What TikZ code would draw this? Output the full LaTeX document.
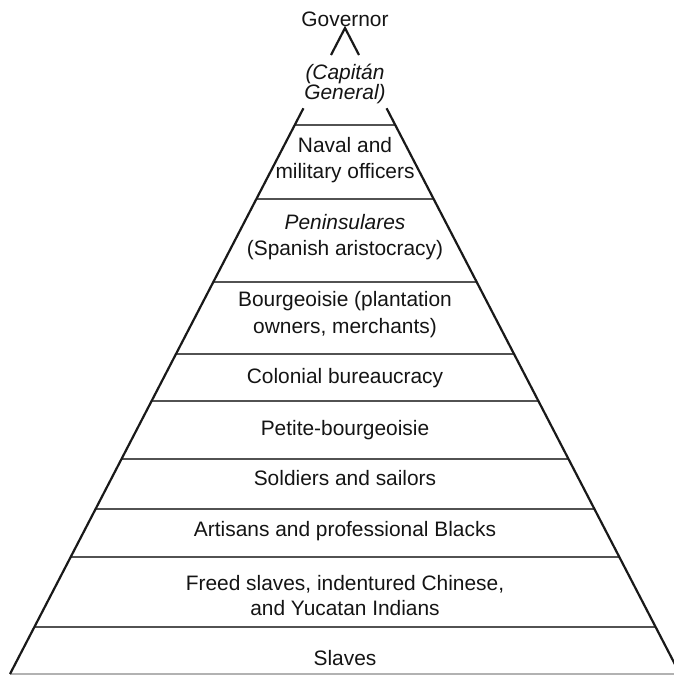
\documentclass[tikz,border=0pt]{standalone}
\usepackage{fontspec}
\setmainfont{Liberation Sans}
\begin{document}
\begin{tikzpicture}[x=1pt,y=-1pt,
  lbl/.style={anchor=base,inner sep=0pt,text=black!92,font=\fontsize{20.9}{26}\selectfont},
  leg/.style={line width=2.2pt,black!90},
  tier/.style={line width=1.5pt,black!68}]
\useasboundingbox (0,0) rectangle (674,675);
\clip (0,0) rectangle (674,675);
\coordinate (apex) at (345,28);
% legs
\coordinate (lt1) at (331.0,55);
\coordinate (rt1) at (359.0,55);
\coordinate (lt2) at (303.4,108.3);
\coordinate (rt2) at (386.6,108.3);
\coordinate (bl) at (10,674);
\coordinate (br) at (680,674);
\draw[tier,black!30,line width=1.2pt] (bl) -- (br);
\foreach \y in {125,199,282,354,401,459,509,557,627}{
  \draw[tier] ({345-0.5186*(\y-28)},\y) -- ({345+0.5186*(\y-28)},\y);
}
\draw[leg] (lt1) -- (apex) -- (rt1);
\draw[leg] (lt2) -- (bl);
\draw[leg] (rt2) -- (br);
% labels
\node[lbl] (gov) at (345,26) {Governor};
\node[lbl] (cap1) at (345,79) {\itshape (Capitán};
\node[lbl] (cap2) at (345,99) {\itshape General)};
\node[lbl] (nav1) at (345,152.3) {Naval and};
\node[lbl] (nav2) at (345,178.3) {military officers};
\node[lbl] (pen1) at (345,229) {\itshape Peninsulares};
\node[lbl] (pen2) at (345,255) {(Spanish aristocracy)};
\node[lbl] (bou1) at (345,306.7) {Bourgeoisie (plantation};
\node[lbl] (bou2) at (345,333.3) {owners, merchants)};
\node[lbl] (col) at (345,383) {Colonial bureaucracy};
\node[lbl] (pet) at (345,435) {Petite-bourgeoisie};
\node[lbl] (sol) at (345,485.7) {Soldiers and sailors};
\node[lbl] (art) at (345,536.7) {Artisans and professional Blacks};
\node[lbl] (fre1) at (345,590) {Freed slaves, indentured Chinese,};
\node[lbl] (fre2) at (345,615) {and Yucatan Indians};
\node[lbl] (sla) at (345,665) {Slaves};
\end{tikzpicture}
\end{document}
